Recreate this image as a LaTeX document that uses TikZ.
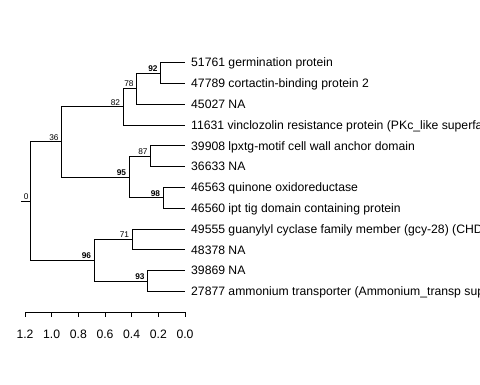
\documentclass[tikz,border=0pt]{standalone}
\usepackage{fontspec}
\setmainfont{Liberation Sans}
\usepackage{tikz}
\usetikzlibrary{arrows,calc,positioning}
\tikzset{
  treelabel/.style = {inner sep=0pt, black, font=\fontsize{12.2}{14}\selectfont, text height=8.7pt,
  text depth=0pt},
  tip_l/.style = {treelabel, anchor=west},
  boot_n/.style = {inner sep=0pt, black, font=\fontsize{8.3}{9}\selectfont, text height=6pt,
  text depth=0pt},
  boot_b/.style = {boot_n, font=\fontsize{8.3}{9}\selectfont\bfseries},
  ax_l/.style = {treelabel}
}

\begin{document}
\begin{tikzpicture}[x=1pt, y=-1pt,
        	edge/.style={draw=black, line width=0.8pt},
        	tick/.style={draw=black, line width=0.8pt}]
		    \useasboundingbox (0,0) rectangle (480,384);
		    \clip (0,0) rectangle (480,384);
		    % tips
		    \coordinate (t1) at (185,62.5);
		    \coordinate (t2) at (185,83.3);
		    \coordinate (t3) at (185,104.1);
		    \coordinate (t4) at (185,124.9);
		    \coordinate (t5) at (185,145.7);
		    \coordinate (t6) at (185,166.5);
		    \coordinate (t7) at (185,187.3);
		    \coordinate (t8) at (185,208.1);
		    \coordinate (t9) at (185,228.9);
		    \coordinate (t10) at (185,249.7);
		    \coordinate (t11) at (185,270.5);
		    \coordinate (t12) at (185,291.3);
		    % inner nodes
		    \coordinate (root-stub) at (21,201);
		    \coordinate (n0) at (30.7,201);
		    \coordinate (n36) at (61.7,141.8);
		    \coordinate (n82) at (123.3,106.7);
		    \coordinate (n78) at (136.7,88.5);
		    \coordinate (n92) at (160.7,72.9);
		    \coordinate (n95) at (129.3,176.9);
		    \coordinate (n87) at (150.7,156.1);
		    \coordinate (n98) at (163.3,197.7);
		    \coordinate (n96) at (94.3,260.1);
		    \coordinate (n71) at (132.3,239.3);
		    \coordinate (n93) at (147.7,280.9);

		    \draw[edge] (root-stub) -- (n0);
		    \draw[edge] (n0) |- (n36);
		    \draw[edge] (n0) |- (n96);
		    \draw[edge] (n36) |- (n82);
		    \draw[edge] (n36) |- (n95);
		    \draw[edge] (n82) |- (n78);
		    \draw[edge] (n82) |- (t4);
		    \draw[edge] (n78) |- (n92);
		    \draw[edge] (n78) |- (t3);
		    \draw[edge] (n92) |- (t1);
		    \draw[edge] (n92) |- (t2);
		    \draw[edge] (n95) |- (n87);
		    \draw[edge] (n95) |- (n98);
		    \draw[edge] (n87) |- (t5);
		    \draw[edge] (n87) |- (t6);
		    \draw[edge] (n98) |- (t7);
		    \draw[edge] (n98) |- (t8);
		    \draw[edge] (n96) |- (n71);
		    \draw[edge] (n96) |- (n93);
		    \draw[edge] (n71) |- (t9);
		    \draw[edge] (n71) |- (t10);
		    \draw[edge] (n93) |- (t11);
		    \draw[edge] (n93) |- (t12);

		    \node [tip_l, right=6pt of t1] (lab1) {51761 germination protein};
		    \node [tip_l, right=6pt of t2] (lab2) {47789 cortactin-binding protein 2};
		    \node [tip_l, right=6pt of t3] (lab3) {45027 NA};
		    \node [tip_l, right=6pt of t4] (lab4) {11631 vinclozolin resistance protein (PKc\_like superfamily)};
		    \node [tip_l, right=6pt of t5] (lab5) {39908 lpxtg-motif cell wall anchor domain};
		    \node [tip_l, right=6pt of t6] (lab6) {36633 NA};
		    \node [tip_l, right=6pt of t7] (lab7) {46563 quinone oxidoreductase};
		    \node [tip_l, right=6pt of t8] (lab8) {46560 ipt tig domain containing protein};
		    \node [tip_l, right=6pt of t9] (lab9) {49555 guanylyl cyclase family member (gcy-28) (CHD)};
		    \node [tip_l, right=6pt of t10] (lab10) {48378 NA};
		    \node [tip_l, right=6pt of t11] (lab11) {39869 NA};
		    \node [tip_l, right=6pt of t12] (lab12) {27877 ammonium transporter (Ammonium\_transp superfamily)};

		    \node [boot_n, above left=1.5pt and 2pt of n0] (bs0) {0};
		    \node [boot_n, above left=1.5pt and 3pt of n36] (bs36) {36};
		    \node [boot_n, above left=1.5pt and 3pt of n82] (bs82) {82};
		    \node [boot_n, above left=1.5pt and 3pt of n78] (bs78) {78};
		    \node [boot_b, above left=1.5pt and 3pt of n92] (bs92) {92};
		    \node [boot_b, above left=1.5pt and 3pt of n95] (bs95) {95};
		    \node [boot_n, above left=1.5pt and 3pt of n87] (bs87) {87};
		    \node [boot_b, above left=1.5pt and 3pt of n98] (bs98) {98};
		    \node [boot_b, above left=1.5pt and 3pt of n96] (bs96) {96};
		    \node [boot_n, above left=1.5pt and 3pt of n71] (bs71) {71};
		    \node [boot_b, above left=1.5pt and 3pt of n93] (bs93) {93};

		    % scale
		    \coordinate (a12) at (25,312.3);
		    \coordinate (a10) at (51.67,312.3);
		    \coordinate (a08) at (78.33,312.3);
		    \coordinate (a06) at (105,312.3);
		    \coordinate (a04) at (131.67,312.3);
		    \coordinate (a02) at (158.33,312.3);
		    \coordinate (a00) at (185,312.3);
		    \draw[tick] (a12) -- (a00);
		    \draw[tick] (a12) -- ++(0,5) coordinate (b12);
		    \draw[tick] (a10) -- ++(0,5) coordinate (b10);
		    \draw[tick] (a08) -- ++(0,5) coordinate (b08);
		    \draw[tick] (a06) -- ++(0,5) coordinate (b06);
		    \draw[tick] (a04) -- ++(0,5) coordinate (b04);
		    \draw[tick] (a02) -- ++(0,5) coordinate (b02);
		    \draw[tick] (a00) -- ++(0,5) coordinate (b00);
		    \node [ax_l, below=12.5pt of b12] (k12) {1.2};
		    \node [ax_l, below=12.5pt of b10] (k10) {1.0};
		    \node [ax_l, below=12.5pt of b08] (k08) {0.8};
		    \node [ax_l, below=12.5pt of b06] (k06) {0.6};
		    \node [ax_l, below=12.5pt of b04] (k04) {0.4};
		    \node [ax_l, below=12.5pt of b02] (k02) {0.2};
		    \node [ax_l, below=12.5pt of b00] (k00) {0.0};
		\end{tikzpicture}
\end{document}
